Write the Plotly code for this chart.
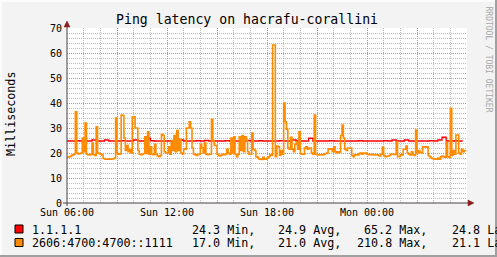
import plotly.graph_objects as go
import pandas as pd

# ---------------- data ----------------
title_text = "Ping latency on hacrafu-corallini"
y_title = "Milliseconds"
watermark = "RRDTOOL / TOBI OETIKER"
start_time = "2024-03-03 06:00"
end_time = "2024-03-04 06:00"

series_names = ["1.1.1.1", "2606:4700:4700::1111"]
stat_min = ["24.3 Min,", "17.0 Min,"]
stat_avg = ["24.9 Avg,", "21.0 Avg,"]
stat_max = ["65.2 Max,", "210.8 Max,"]
stat_last = ["24.8 Last", "21.1 Last"]

# 1.1.1.1 — 15 minute samples
red_values = [
    24.8, 24.8, 24.9, 24.8, 24.8, 24.8, 25.2, 24.8, 24.8, 25.2, 24.8, 24.8,
    24.8, 24.9, 24.8, 24.8, 25.2, 24.8, 24.8, 25.9, 24.9, 24.8, 24.8, 24.8,
    24.8, 24.9, 24.8, 25.2, 24.8, 24.8, 24.8, 24.9, 24.8, 25.0, 24.8, 24.8,
    24.8, 24.8, 24.9, 24.8, 24.8, 24.8, 24.8, 25.0, 24.8, 24.8, 24.9, 24.8,
    24.8, 24.8, 24.8, 24.9, 24.8, 24.8, 25.2, 24.8, 24.8, 24.8, 25.9, 24.8,
    24.8, 24.8, 24.8, 24.9, 24.8, 24.8, 24.8, 24.8, 24.8, 24.8, 24.9, 24.8,
    24.8, 24.8, 24.8, 24.8, 24.9, 24.8, 25.2, 24.8, 24.8, 25.2, 24.8, 24.8,
    24.8, 24.8, 24.8, 24.9, 24.8, 25.2, 26.3, 24.8, 24.8, 24.9, 24.8, 24.8,
]

# 2606:4700:4700::1111 — 5 minute samples (one row per hour)
orange_values = [
    18.5, 18.4, 18.6, 19.0, 19.3, 19.5, 36.5, 20.0, 19.6, 19.8, 20.0, 26.0,
    20.5, 32.0, 19.5, 19.3, 19.2, 19.5, 24.0, 19.3, 19.0, 30.5, 20.0, 19.8,
    19.5, 19.2, 17.8, 17.6, 17.5, 17.5, 17.6, 17.5, 17.6, 17.7, 18.0, 34.0,
    19.8, 19.5, 19.6, 35.2, 35.0, 26.0, 21.0, 23.0, 20.5, 21.5, 20.0, 34.5,
    34.5, 30.0, 30.0, 21.0, 19.5, 19.3, 19.5, 19.8, 26.5, 19.8, 28.5, 19.5,
    22.5, 19.5, 19.3, 23.5, 19.5, 18.8, 18.5, 19.0, 27.5, 27.0, 20.5, 20.0,
    20.0, 22.5, 19.5, 25.0, 21.0, 27.0, 20.5, 29.0, 21.0, 25.5, 20.0, 19.5,
    21.7, 21.5, 30.0, 30.0, 32.5, 30.0, 22.0, 19.5, 19.3, 19.0, 19.3, 19.5,
    23.5, 22.0, 20.0, 24.0, 19.5, 19.3, 19.5, 19.5, 33.5, 25.0, 23.0, 23.0,
    19.5, 19.0, 18.8, 19.2, 19.5, 19.3, 19.5, 21.5, 20.0, 19.5, 26.0, 20.0,
    26.5, 19.5, 18.5, 19.5, 26.5, 21.0, 27.0, 20.5, 26.5, 25.0, 20.5, 19.5,
    19.5, 28.0, 21.5, 21.0, 18.5, 18.3, 17.6, 17.5, 17.4, 18.3, 17.5, 17.5,
    18.0, 18.5, 19.3, 19.0, 63.2, 63.2, 18.5, 22.8, 22.5, 19.0, 21.0, 19.5,
    40.0, 32.5, 29.5, 22.0, 21.5, 26.3, 21.5, 20.5, 23.5, 24.5, 21.5, 28.5,
    19.8, 19.5, 19.5, 22.0, 22.5, 21.5, 22.0, 22.0, 20.0, 19.5, 35.2, 19.5,
    19.3, 19.2, 19.3, 19.2, 19.3, 19.5, 19.8, 20.0, 21.7, 21.5, 21.7, 20.5,
    22.5, 20.5, 20.0, 20.5, 20.3, 27.0, 31.2, 26.0, 21.5, 21.0, 22.0, 22.0,
    22.0, 19.0, 18.5, 19.3, 19.3, 19.2, 19.8, 20.0, 19.5, 20.0, 19.8, 20.0,
    19.5, 19.3, 19.3, 19.5, 19.3, 19.2, 19.4, 19.3, 19.0, 18.8, 19.5, 22.4,
    19.0, 18.5, 18.7, 18.8, 19.0, 19.5, 19.5, 19.4, 19.5, 24.5, 18.5, 18.6,
    19.3, 19.2, 21.5, 21.5, 22.8, 20.0, 19.5, 19.2, 20.5, 19.3, 19.0, 29.2,
    20.0, 21.0, 20.3, 20.0, 22.5, 22.5, 22.3, 22.5, 19.0, 18.5, 18.0, 17.8,
    17.5, 17.6, 17.5, 18.0, 17.5, 18.5, 18.8, 18.5, 18.3, 24.3, 18.5, 18.3,
    37.9, 19.0, 21.0, 19.5, 27.2, 27.2, 20.0, 19.5, 21.5, 20.5, 21.0, 21.1,
]

tick_times = ["2024-03-03 06:00", "2024-03-03 09:00", "2024-03-03 12:00",
              "2024-03-03 15:00", "2024-03-03 18:00", "2024-03-03 21:00",
              "2024-03-04 00:00", "2024-03-04 03:00"]
tick_text = ["Sun 06:00", "", "Sun 12:00", "", "Sun 18:00", "", "Mon 00:00", ""]
y_ticks = [0, 10, 20, 30, 40, 50, 60, 70]

# ---------------- style ----------------
RED = "#FF0000"
ORANGE = "#FF8C00"
MONO = "DejaVu Sans Mono"
MAJOR_GRID = "rgba(230,120,120,0.8)"
MINOR_GRID = "rgba(165,165,165,0.75)"
AXIS = "#4F4545"
ARROW = "#8B1C1C"

W, H = 497, 257
L, R, T, B = 67, 467, 28, 203


def px(x):
    return (x - L) / (R - L)


def py(y):
    return (B - y) / (B - T)


t_red = pd.date_range(start_time, periods=len(red_values), freq="15min")
t_orange = pd.date_range(start_time, periods=len(orange_values), freq="5min")

fig = go.Figure()
fig.add_trace(go.Scatter(x=t_red, y=red_values, mode="lines", line_shape="hv",
                         line=dict(color=RED, width=1.3), name=series_names[0],
                         showlegend=False))
fig.add_trace(go.Scatter(x=t_orange, y=orange_values, mode="lines", line_shape="hv",
                         line=dict(color=ORANGE, width=1.6), name=series_names[1],
                         showlegend=False))

fig.update_layout(
    width=W, height=H,
    margin=dict(l=L, r=W - R, t=T, b=H - B, pad=0),
    paper_bgcolor="#F3F3F3",
    plot_bgcolor="#FFFFFF",
    font=dict(family=MONO, color="#000000"),
    xaxis=dict(
        type="date", range=[start_time, end_time],
        tickmode="array", tickvals=tick_times, ticktext=tick_text,
        showgrid=True, gridcolor=MAJOR_GRID, griddash="1px,1px", gridwidth=1,
        minor=dict(tick0=start_time, dtick=3600000, showgrid=True,
                   gridcolor=MINOR_GRID, griddash="1px,1px", gridwidth=1),
        showline=False, zeroline=False, ticks="",
        tickfont=dict(family=MONO, size=10, color="#000000"),
        ticklabelstandoff=2,
        fixedrange=True,
    ),
    yaxis=dict(
        range=[0, 70], tickmode="array", tickvals=y_ticks,
        showgrid=True, gridcolor=MAJOR_GRID, griddash="1px,1px", gridwidth=1,
        minor=dict(dtick=2, showgrid=True, gridcolor=MINOR_GRID,
                   griddash="1px,1px", gridwidth=1),
        showline=False, zeroline=False, ticks="",
        tickfont=dict(family=MONO, size=10, color="#000000"),
        ticklabelstandoff=4,
        fixedrange=True,
    ),
)

shapes = []
# frame (3D border)
shapes.append(dict(type="line", xref="paper", yref="paper", x0=px(0), x1=px(W), y0=py(1), y1=py(1),
                   line=dict(color="#FCFCFC", width=2)))
shapes.append(dict(type="line", xref="paper", yref="paper", x0=px(1), x1=px(1), y0=py(0), y1=py(H),
                   line=dict(color="#FCFCFC", width=2)))
shapes.append(dict(type="line", xref="paper", yref="paper", x0=px(0), x1=px(W), y0=py(H - 1), y1=py(H - 1),
                   line=dict(color="#A0A0A0", width=2)))
shapes.append(dict(type="line", xref="paper", yref="paper", x0=px(W - 1), x1=px(W - 1), y0=py(0), y1=py(H),
                   line=dict(color="#A0A0A0", width=2)))
# axes
shapes.append(dict(type="line", xref="paper", yref="paper", x0=px(63), x1=px(469), y0=0, y1=0,
                   line=dict(color=AXIS, width=1), layer="above"))
shapes.append(dict(type="line", xref="paper", yref="paper", x0=0, x1=0, y0=py(206), y1=py(25),
                   line=dict(color=AXIS, width=1), layer="above"))
shapes.append(dict(type="path", xref="paper", yref="paper", layer="above",
                   path=f"M {px(468)},{py(200)} L {px(474)},{py(203)} L {px(468)},{py(206)} Z",
                   fillcolor=ARROW, line=dict(color=ARROW, width=0.5)))
shapes.append(dict(type="path", xref="paper", yref="paper", layer="above",
                   path=f"M {px(64)},{py(27)} L {px(67)},{py(21)} L {px(70)},{py(27)} Z",
                   fillcolor=ARROW, line=dict(color=ARROW, width=0.5)))
# legend swatches
swatch_rows = [229, 242.5]
for yc, col in zip(swatch_rows, [RED, ORANGE]):
    shapes.append(dict(type="rect", xref="paper", yref="paper",
                       x0=px(15), x1=px(23), y0=py(yc - 4), y1=py(yc + 4),
                       fillcolor=col, line=dict(color="#000000", width=1)))
fig.update_layout(shapes=shapes)

ann = []
ann.append(dict(text=title_text, x=px(247), y=py(19.5), xref="paper", yref="paper",
                showarrow=False, xanchor="center", yanchor="middle",
                font=dict(family=MONO, size=13.2, color="#000000")))
ann.append(dict(text=y_title, x=px(10.5), y=py(114.5), xref="paper", yref="paper",
                showarrow=False, xanchor="center", yanchor="middle", textangle=-90,
                font=dict(family=MONO, size=11.7, color="#000000")))
ann.append(dict(text=watermark, x=px(488.5), y=py(59), xref="paper", yref="paper",
                showarrow=False, xanchor="center", yanchor="middle", textangle=90,
                font=dict(family=MONO, size=8, color="#A8A8A8")))
for i, yc in enumerate(swatch_rows):
    common = dict(xref="paper", yref="paper", showarrow=False, yanchor="middle",
                  y=py(yc + 0.5), font=dict(family=MONO, size=11.7, color="#000000"))
    ann.append(dict(text=series_names[i], x=px(30), xanchor="left", **common))
    ann.append(dict(text=stat_min[i], x=px(256.5), xanchor="right", **common))
    ann.append(dict(text=stat_avg[i], x=px(342.5), xanchor="right", **common))
    ann.append(dict(text=stat_max[i], x=px(428.5), xanchor="right", **common))
    ann.append(dict(text=stat_last[i], x=px(450), xanchor="left", **common))
fig.update_layout(annotations=ann)

fig.write_html("out.html", config={"displayModeBar": False})
